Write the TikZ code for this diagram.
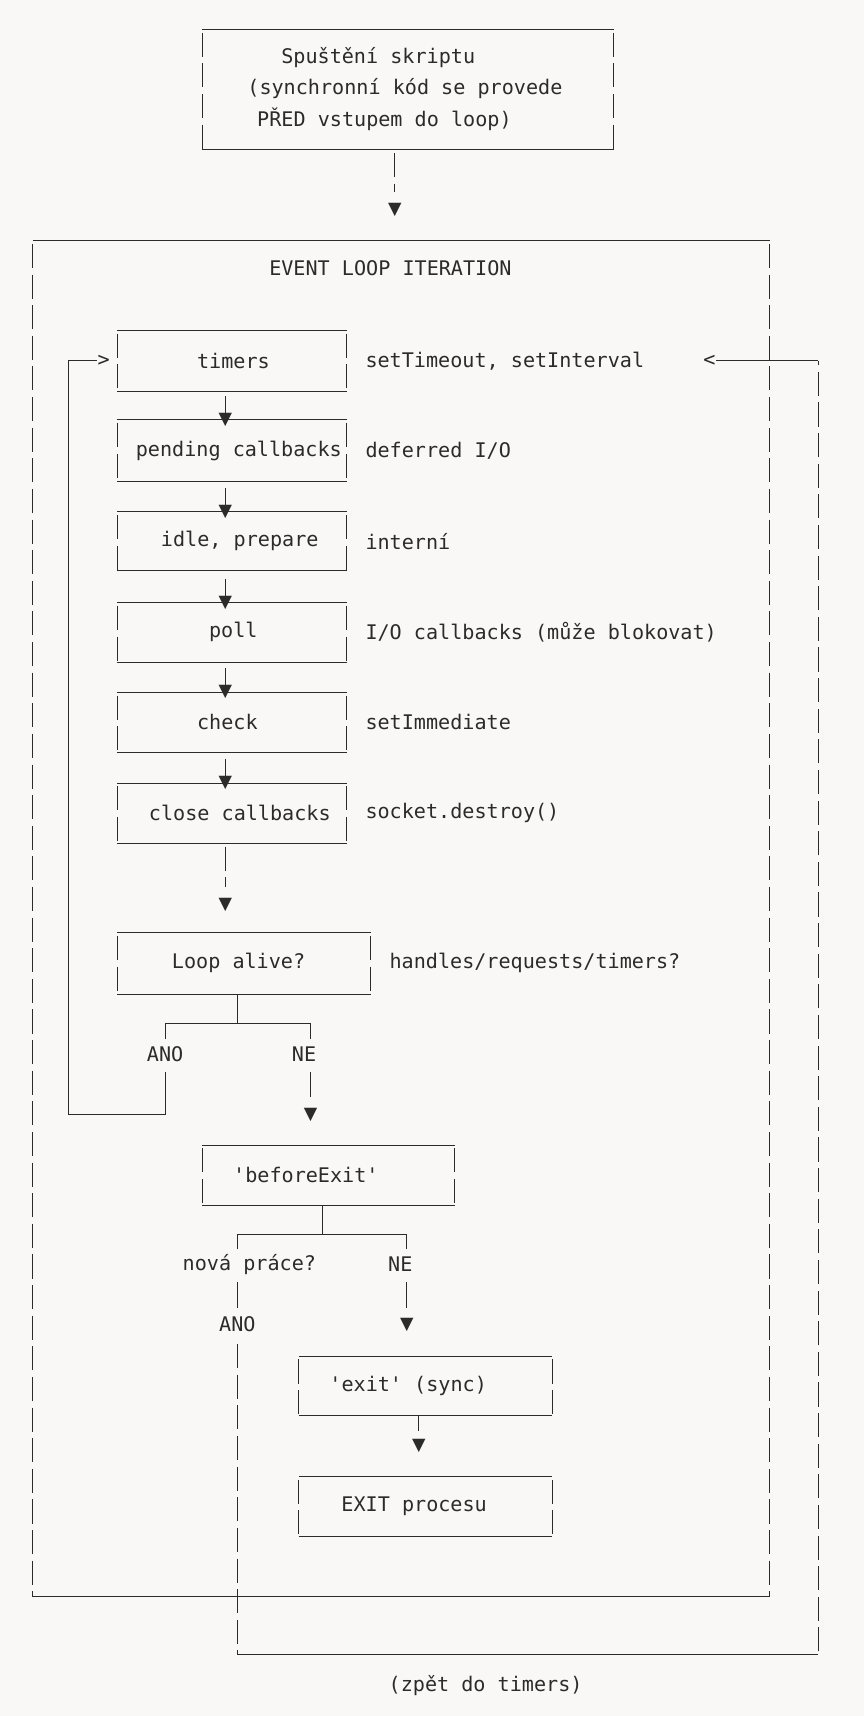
\documentclass[tikz,border=0pt]{standalone}
\usepackage{fontspec}
\setmonofont{DejaVu Sans Mono}
\newfontfamily\symfont{DejaVu Sans}
\definecolor{ink}{HTML}{2B2B2B}
\definecolor{paper}{HTML}{F9F8F6}
\tikzset{
  txt/.style={anchor=west, inner sep=0pt, text=ink, font=\ttfamily\fontsize{18.4}{22}\selectfont},
  ctxt/.style={txt, anchor=center},
  tip/.style={inner sep=0pt, text=ink, font=\symfont\fontsize{16}{16}\selectfont},
  hline/.style={draw=ink, line width=0.9pt},
  vline/.style={draw=ink, line width=0.9pt, dash pattern=on 22pt off 6pt, dash phase=-3pt},
  wire/.style={draw=ink, line width=0.9pt},
}
% box: name, x1, y1, x2, y2
\newcommand{\asciibox}[5]{%
  \coordinate (#1nw) at (#2,#3); \coordinate (#1se) at (#4,#5);
  \coordinate (#1ne) at (#4,#3); \coordinate (#1sw) at (#2,#5);
  \draw[hline] (#1nw) -- (#1ne); \draw[hline] (#1sw) -- (#1se);
  \draw[vline] (#1nw) -- (#1sw); \draw[vline] (#1ne) -- (#1se);}
\begin{document}
\begin{tikzpicture}[x=1pt, y=-1pt]
\fill[paper] (0,0) rectangle (790,1569);
\useasboundingbox (0,0) rectangle (790,1569);

% start of script
\asciibox{start}{185}{27}{561}{137}
\node[txt] (startA) at (257,53) {Spuštění skriptu};
\node[txt] (startB) at (226,81) {(synchronní kód se provede};
\node[txt] (startC) at (235,109) {PŘED vstupem do loop)};
\coordinate (startout) at (361,137);
\node[tip] (tipLoop) at (361,192) {▼};
\draw[vline] (startout) -- (361,176);

% event loop frame
\asciibox{frame}{30}{220}{704}{1460}
\node[txt] (title) at (246,245) {EVENT LOOP ITERATION};

% phases
\asciibox{timers}{107}{302}{317}{358}
\node[txt] (timersT) at (180,330) {timers};
\node[txt] (timersL) at (334,330) {setTimeout, setInterval};
\asciibox{pending}{107}{384}{317}{440}
\node[txt] (pendingT) at (124,412) {pending callbacks};
\node[txt] (pendingL) at (334,412) {deferred I/O};
\asciibox{idle}{107}{468}{317}{522}
\node[txt] (idleT) at (147,495) {idle, prepare};
\node[txt] (idleL) at (334,495) {interní};
\asciibox{poll}{107}{551}{317}{606}
\node[txt] (pollT) at (191,578) {poll};
\node[txt] (pollL) at (334,578) {I/O callbacks (může blokovat)};
\asciibox{check}{107}{633}{317}{688}
\node[txt] (checkT) at (180,660) {check};
\node[txt] (checkL) at (334,660) {setImmediate};
\asciibox{close}{107}{716}{317}{771}
\node[txt] (closeT) at (136,743) {close callbacks};
\node[txt] (closeL) at (334,743) {socket.destroy()};

% phase arrows
\foreach \a/\b/\y in {timers/pending/384, pending/idle/468, idle/poll/551, poll/check/633, check/close/716}{
  \node[tip] (tip\b) at (206,\y) {▼};
  \draw[wire] (206,\y) ++(0,-26) coordinate (from\b) ++(0,4) -- (tip\b.north);
}
\node[tip] (tipAlive) at (206,827) {▼};
\draw[vline] (206,771) coordinate (closeout) -- (206,811);

% loop alive
\asciibox{alive}{107}{853}{339}{909}
\node[txt] (aliveT) at (157,880) {Loop alive?};
\node[txt] (aliveL) at (356,880) {handles/requests/timers?};
\coordinate (aliveout) at (217,909);
\coordinate (aliveJ) at (217,936);
\coordinate (aliveA) at (151,936);
\coordinate (aliveN) at (284,936);
\node[ctxt] (anoA) at (151,964) {ANO};
\node[ctxt] (neA) at (278,964) {NE};
\draw[wire] (aliveout) -- (aliveJ);
\draw[wire] (151,950) -- (aliveA) -- (aliveN) -- (284,950);
% back to timers
\coordinate (backA) at (151,1019);
\coordinate (backB) at (63,1019);
\coordinate (backC) at (63,330);
\node[txt, inner sep=0pt] (backTip) at (89,330) {>};
\draw[wire] (151,980) -- (backA) -- (backB) -- (backC) -- (backTip.west);
\node[tip] (tipBefore) at (284,1019) {▼};
\draw[wire] (284,980) -- (284,1003);

% beforeExit
\asciibox{before}{185}{1047}{416}{1102}
\node[txt] (beforeT) at (213,1074) {'beforeExit'};
\coordinate (beforeout) at (295,1102);
\coordinate (beforeJ) at (295,1129);
\coordinate (beforeA) at (217,1129);
\coordinate (beforeN) at (372,1129);
\node[ctxt] (novaB) at (228,1156) {nová práce?};
\node[ctxt] (neB) at (366,1156) {NE};
\node[ctxt] (anoB) at (217,1211) {ANO};
\draw[wire] (beforeout) -- (beforeJ);
\draw[wire] (217,1142) -- (beforeA) -- (beforeN) -- (372,1142);
\draw[wire] (217,1172) -- (217,1196);
\node[tip] (tipExit) at (372,1211) {▼};
\draw[wire] (372,1172) -- (372,1196);

% new work: back to timers
\coordinate (workA) at (217,1513);
\coordinate (workB) at (748,1513);
\coordinate (workC) at (748,330);
\node[txt] (workTip) at (643,330) {<};
\draw[vline] (217,1226) -- (workA);
\draw[wire] (workA) -- (workB);
\draw[vline] (workB) -- (workC);
\draw[wire] (workC) -- (workTip.east);
\node[ctxt] (workL) at (444,1541) {(zpět do timers)};

% exit
\asciibox{exit}{273}{1240}{505}{1294}
\node[txt] (exitT) at (301,1267) {'exit' (sync)};
\node[tip] (tipEnd) at (383,1322) {▼};
\draw[wire] (383,1294) -- (383,1308);
\asciibox{end}{273}{1350}{505}{1405}
\node[txt] (endT) at (312,1377) {EXIT procesu};
\end{tikzpicture}
\end{document}
